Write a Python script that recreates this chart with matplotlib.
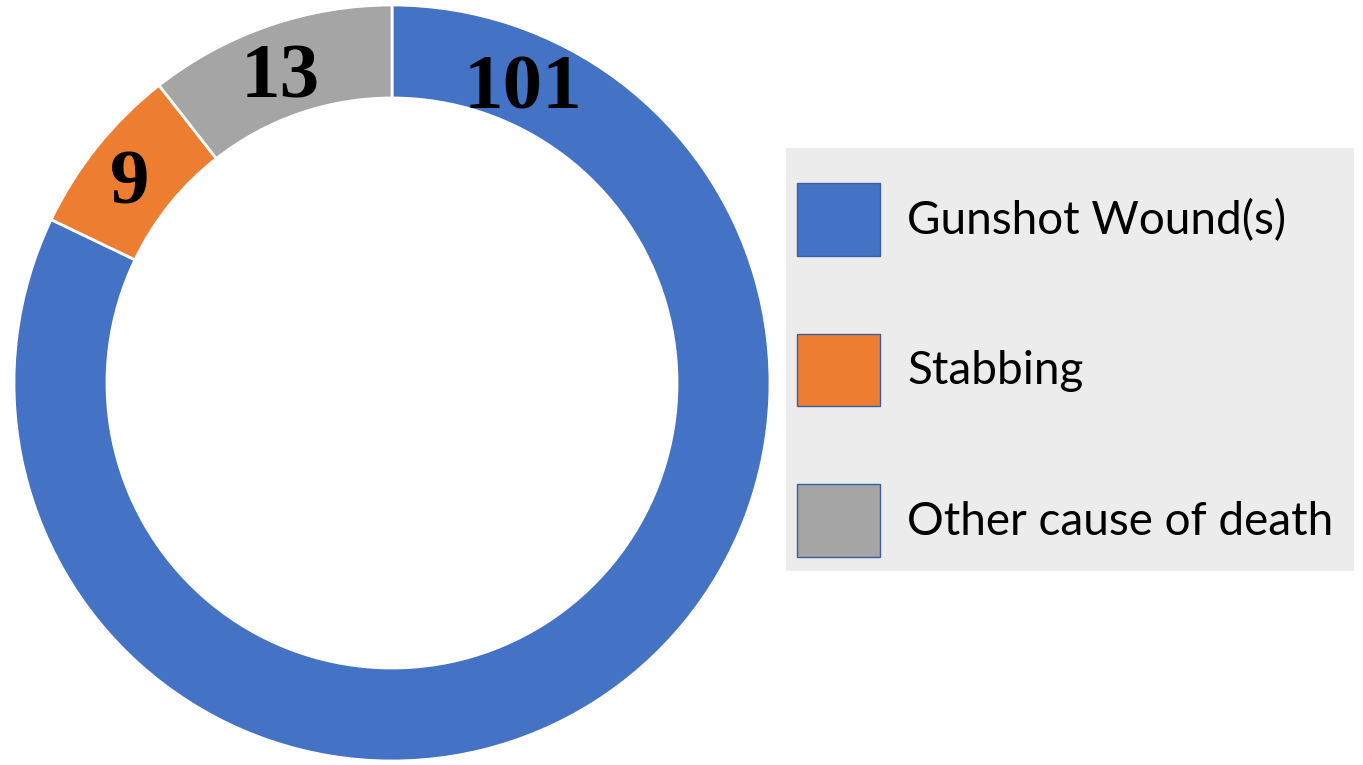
import numpy as np
import matplotlib
matplotlib.use("Agg")
import matplotlib.pyplot as plt
from matplotlib.patches import Patch, Rectangle


causes = ["Gunshot Wound(s)", "Stabbing", "Other cause of death"]
counts = [101, 9, 13]
colors = ["#4472C4", "#ED7D31", "#A5A5A5"]

W, H = 1363, 765
fig = plt.figure(figsize=(W / 100, H / 100), dpi=100)
fig.patch.set_facecolor("white")

# donut axes, pixel box of the ring
ax = fig.add_axes([14 / W, 4 / H, 756 / W, 756 / H])

ring = 0.246
wedges, _ = ax.pie(
    counts,
    colors=colors,
    startangle=90,
    counterclock=False,
    radius=1.0,
    wedgeprops=dict(width=ring, edgecolor="white", linewidth=2),
)
ax.set_xlim(-1, 1)
ax.set_ylim(-1, 1)
ax.set_aspect("equal")
ax.axis("off")

# value labels inside the ring
r_lab = 1 - ring / 2
for i, (w, n) in enumerate(zip(wedges, counts)):
    ang = (w.theta1 + w.theta2) / 2
    if i == 0:
        # first label sits near the start of the big slice
        ang = w.theta2 - 24
    a = np.deg2rad(ang)
    ax.annotate(
        str(n),
        xy=(r_lab * np.cos(a), r_lab * np.sin(a)),
        xytext=(-3, -7), textcoords="offset points",
        ha="center", va="center",
        fontsize=57, fontweight="bold",
        family="Liberation Serif", color="black",
    )

# grey panel behind the legend
fig.patches.append(Rectangle(
    (786 / W, 1 - 571 / H), 568 / W, 423 / H,
    transform=fig.transFigure, facecolor="#ECECEC",
    edgecolor="none", zorder=0,
))

fs = 33  # legend font size (pt)
handles = [Patch(facecolor=c, edgecolor="#3A5FA0", linewidth=1) for c in colors]
leg = fig.legend(
    handles, causes,
    loc="upper left",
    bbox_to_anchor=(797 / W, 1 - 183 / H),
    prop=dict(family="Lato", size=fs),
    handlelength=1.81,
    handleheight=2.06,
    handletextpad=0.6,
    labelspacing=1.7,
    borderpad=0,
    borderaxespad=0,
    frameon=False,
)

fig.savefig("out.png", dpi=100)
